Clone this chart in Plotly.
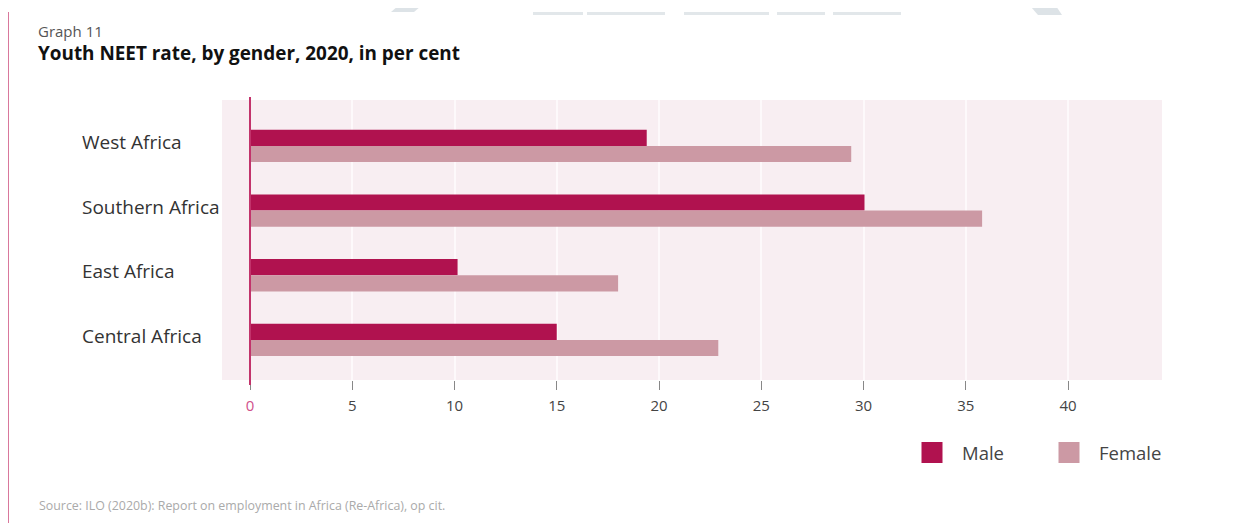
import plotly.graph_objects as go

regions = ["West Africa", "Southern Africa", "East Africa", "Central Africa"]
male = [19.4, 30.05, 10.15, 15.0]
female = [29.4, 35.8, 18.0, 22.9]
tick_vals = [0, 5, 10, 15, 20, 25, 30, 35, 40]
tick_text = ["<span style='color:#d0508a'>0</span>", "5", "10", "15", "20", "25", "30", "35", "40"]

MALE_C = "#b0124f"
FEMALE_C = "#cc99a4"
FONT = "Open Sans"

# page offset (body margin) and figure size
OFF = 8
FW, FH = 1239 - 2 * OFF, 531 - 2 * OFF
# plot area in reference (screen) coordinates
L, R, T, B = 222, 1162, 100, 380


def px(x):
    return (x - L) / (R - L)


def py(y):
    return (B - y) / (B - T)


def cx(x):
    return (x - OFF) / FW


def cy(y):
    return 1 - (y - OFF) / FH


fig = go.Figure()
fig.add_trace(go.Bar(y=regions, x=male, name="Male", orientation="h",
                     marker=dict(color=MALE_C, line=dict(width=0)),
                     legendgroup="m", showlegend=False))
fig.add_trace(go.Bar(y=regions, x=female, name="Female", orientation="h",
                     marker=dict(color=FEMALE_C, line=dict(width=0)),
                     legendgroup="f", showlegend=False))
# legend entries with larger square swatches
for nm, col, grp in [("Male", MALE_C, "m"), ("Female", FEMALE_C, "f")]:
    fig.add_trace(go.Scatter(x=[None], y=[None], name=nm, mode="markers", legendgroup=grp,
                             marker=dict(symbol="square", size=16, color=col,
                                         line=dict(color=col, width=5)),
                             showlegend=True))

annotations = []
for r in regions:
    annotations.append(dict(x=px(80), xref="paper", y=r, yref="y", text=r,
                            showarrow=False, xanchor="left", yanchor="middle", yshift=4,
                            font=dict(family=FONT, size=19, color="#333333")))
annotations += [
    dict(x=px(36), xref="paper", y=py(31), yref="paper", text="Graph 11",
         showarrow=False, xanchor="left", yanchor="middle",
         font=dict(family=FONT, size=15, color="#555555")),
    dict(x=px(36), xref="paper", y=py(53), yref="paper",
         text="<b>Youth NEET rate, by gender, 2020, in per cent</b>",
         showarrow=False, xanchor="left", yanchor="middle",
         font=dict(family=FONT, size=18.9, color="#111111")),
    dict(x=px(37), xref="paper", y=py(505), yref="paper",
         text="Source: ILO (2020b): Report on employment in Africa (Re-Africa), op cit.",
         showarrow=False, xanchor="left", yanchor="middle",
         font=dict(family=FONT, size=12.4, color="#aaaaaa")),
]

shapes = [
    # zero line
    dict(type="line", xref="x", yref="paper", x0=0, x1=0, y0=py(385), y1=py(97),
         line=dict(color="#c2336b", width=2)),
    # left border line
    dict(type="line", xref="paper", yref="paper", x0=px(8), x1=px(8), y0=py(540), y1=py(12),
         line=dict(color="#d9789c", width=2)),
]
# faint decorative marks at the top of the page
for a, b in [(533, 583), (587, 665), (684, 769), (777, 825), (833, 901)]:
    shapes.append(dict(type="rect", xref="paper", yref="paper", x0=px(a), x1=px(b),
                       y0=py(15), y1=py(12), fillcolor="#e2e7ea", line=dict(width=0)))
for pts in [[(405, 0), (428, 0), (414, 12), (391, 12)],
            [(1025, 0), (1052, 0), (1062, 15), (1038, 15)]]:
    path = "M " + " L ".join(f"{px(x)},{py(y)}" for x, y in pts) + " Z"
    shapes.append(dict(type="path", xref="paper", yref="paper", path=path,
                       fillcolor="#dde3e7", line=dict(width=0)))

fig.update_layout(
    width=FW, height=FH,
    margin=dict(l=L - OFF, r=FW - (R - OFF), t=T - OFF, b=FH - (B - OFF), pad=0),
    paper_bgcolor="white",
    plot_bgcolor="#f8eef2",
    barmode="group",
    bargap=0.5,
    bargroupgap=0,
    font=dict(family=FONT, color="#444444"),
    showlegend=True,
    legend=dict(orientation="h", x=cx(902), y=cy(453), xanchor="left", yanchor="middle",
                xref="container", yref="container",
                font=dict(family=FONT, size=18.5, color="#444444"),
                itemsizing="trace", itemwidth=50,
                entrywidth=72, entrywidthmode="pixels",
                bgcolor="rgba(0,0,0,0)"),
    xaxis=dict(range=[(L - 250) / 20.45, (R - 250) / 20.45],
               tickvals=tick_vals, ticktext=tick_text,
               showgrid=True, gridcolor="#fdf9fb", gridwidth=2,
               zeroline=False, showline=False,
               ticks="outside", ticklen=9, tickwidth=1, tickcolor="#888888",
               ticklabelstandoff=3,
               tickfont=dict(family=FONT, size=15, color="#444444"),
               fixedrange=True),
    yaxis=dict(range=[3.62, -0.71], showticklabels=False, showgrid=False,
               zeroline=False, ticks="", fixedrange=True),
    annotations=annotations,
    shapes=shapes,
)

fig.write_html("out.html")
